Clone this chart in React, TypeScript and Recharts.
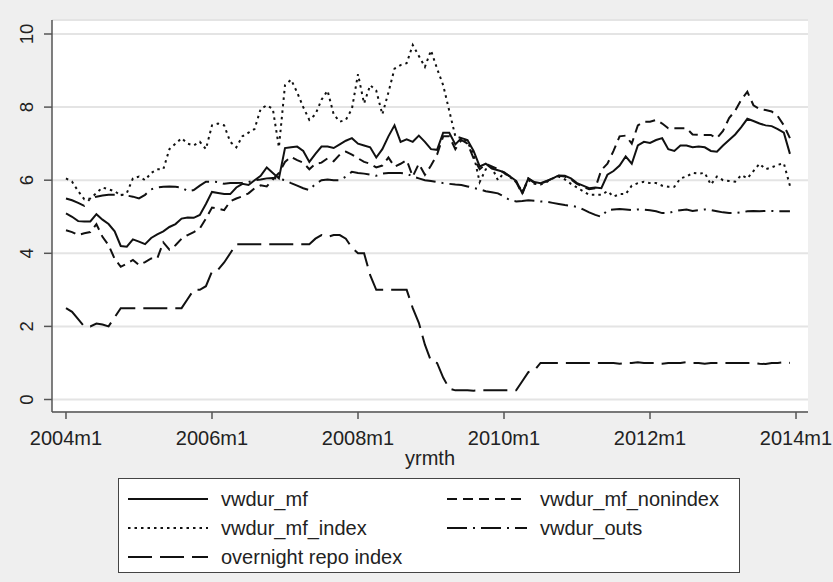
import React from 'react';
import { LineChart, Line, XAxis, YAxis, CartesianGrid } from 'recharts';

// month index 0 = 2004m1
const months: number[] = Array.from({ length: 120 }, (_, i) => i);
const xTicks = [0, 24, 48, 72, 96, 120];
const xTickLabels = ['2004m1', '2006m1', '2008m1', '2010m1', '2012m1', '2014m1'];
const yTicks = [0, 2, 4, 6, 8, 10];

const vwdurMf = [
  5.09, 5.0, 4.88, 4.87, 4.87, 5.07, 4.92, 4.8, 4.6, 4.2,
  4.18, 4.38, 4.32, 4.25, 4.42, 4.52, 4.6, 4.72, 4.8, 4.95,
  4.98, 4.97, 5.05, 5.35, 5.68, 5.65, 5.62, 5.62, 5.8, 5.9,
  5.87, 6.0, 6.12, 6.35, 6.2, 6.05, 6.88, 6.9, 6.92, 6.8,
  6.5, 6.72, 6.92, 6.92, 6.88, 6.98, 7.08, 7.15, 7.0, 6.95,
  6.9, 6.62, 6.85, 7.2, 7.5, 7.05, 7.12, 7.05, 7.22, 7.05,
  6.85, 6.83, 7.3, 7.3, 6.98, 7.15, 7.1, 6.8, 6.38, 6.45,
  6.32, 6.27, 6.22, 6.1, 5.98, 5.65, 6.05, 5.95, 5.92, 5.98,
  6.05, 6.13, 6.12, 6.05, 5.92, 5.85, 5.78, 5.8, 5.78, 6.15,
  6.25, 6.4, 6.65, 6.45, 6.95, 7.05, 7.02, 7.1, 7.15, 6.85,
  6.8, 6.95, 6.95, 6.9, 6.92, 6.9, 6.8, 6.78, 6.95, 7.1,
  7.25, 7.45, 7.68, 7.62, 7.55, 7.5, 7.48, 7.4, 7.3, 6.72,
];

const vwdurMfNonindex = [
  4.63, 4.58, 4.5, 4.55, 4.58, 4.8, 4.45, 4.22, 3.85, 3.63,
  3.72, 3.82, 3.68, 3.76, 3.86, 3.86, 4.3, 4.1, 4.22, 4.4,
  4.5, 4.58, 4.68, 4.95, 5.25, 5.22, 5.18, 5.42, 5.5, 5.56,
  5.64, 5.78, 5.86, 5.83, 6.02, 6.2, 6.5, 6.64, 6.55, 6.48,
  6.3, 6.45, 6.48, 6.6, 6.52, 6.7, 6.78, 6.7, 6.6, 6.5,
  6.45, 6.35, 6.4, 6.62, 6.37, 6.45, 6.55, 6.1, 6.45, 6.15,
  6.4, 6.7, 7.2, 7.2, 6.85, 7.1, 7.0, 6.6, 6.3, 6.45,
  6.38, 6.3, 6.2, 6.1, 5.95, 5.62, 6.05, 5.92, 5.9, 5.97,
  6.05, 6.12, 6.1, 6.02, 5.9, 5.82, 5.75, 5.78, 6.28, 6.45,
  6.8, 7.2, 7.22, 7.0, 7.5, 7.6, 7.6, 7.65, 7.55, 7.42,
  7.42, 7.42, 7.42, 7.25, 7.24, 7.24, 7.24, 7.15, 7.35, 7.7,
  7.9, 8.2, 8.42, 8.05, 7.95, 7.92, 7.88, 7.75, 7.5, 7.15,
];

const vwdurMfIndex = [
  6.05, 5.96, 5.7, 5.48, 5.5, 5.65, 5.8, 5.75, 5.7, 5.58,
  5.65, 6.05, 6.1, 6.0, 6.2, 6.3, 6.3, 6.85, 7.0, 7.15,
  7.0, 6.95, 7.05, 6.85, 7.5, 7.55, 7.5, 7.05, 6.9, 7.2,
  7.3, 7.4, 7.95, 8.05, 7.95, 6.9, 8.6, 8.75, 8.4, 8.0,
  7.65, 7.8, 8.2, 8.45, 7.8, 7.6, 7.65, 7.95, 8.9, 8.1,
  8.6, 8.45, 7.8, 8.4, 9.05, 9.15, 9.2, 9.7, 9.4, 9.1,
  9.55, 9.05, 8.6, 7.9, 7.2, 7.15, 7.05, 6.7, 5.95, 6.3,
  6.35, 6.0, 6.2, 6.08, 5.95, 5.68, 6.0, 5.9, 5.88, 5.95,
  6.05, 6.1, 6.02, 5.9, 5.8, 5.7, 5.6, 5.6, 5.6, 5.7,
  5.55, 5.62, 5.62, 5.85, 5.92, 5.96, 5.92, 5.92, 5.85, 5.82,
  5.82, 6.05, 6.1, 6.2, 6.18, 6.2, 5.88, 6.1, 6.0, 5.98,
  5.96, 6.14, 6.05, 6.25, 6.45, 6.3, 6.35, 6.42, 6.46, 5.85,
];

const vwdurOuts = [
  5.5, 5.45, 5.38, 5.3, 5.5, 5.55, 5.58, 5.6, 5.6, 5.6,
  5.58, 5.55, 5.5, 5.6, 5.75, 5.8, 5.82, 5.83, 5.82, 5.8,
  5.7, 5.73, 5.85, 5.96, 5.96, 5.95, 5.9, 5.92, 5.92, 5.93,
  5.95, 6.0, 6.02, 6.05, 6.06, 6.04, 6.0, 5.92, 5.85, 5.78,
  5.73, 5.9, 6.0, 6.02, 6.0, 6.0, 6.1, 6.23, 6.2, 6.18,
  6.15, 6.12, 6.18, 6.2, 6.2, 6.2, 6.18, 6.1, 6.05, 6.0,
  5.98, 5.95, 5.92, 5.9, 5.88, 5.87, 5.83, 5.79, 5.75, 5.7,
  5.67, 5.64, 5.55, 5.45, 5.42, 5.43, 5.45, 5.44, 5.42, 5.41,
  5.38, 5.35, 5.32, 5.3, 5.27, 5.2, 5.12, 5.05, 5.0, 5.18,
  5.2, 5.21, 5.2, 5.18, 5.2, 5.19, 5.18, 5.15, 5.1, 5.1,
  5.15, 5.18, 5.2, 5.16, 5.18, 5.2, 5.18, 5.15, 5.12, 5.1,
  5.1, 5.12, 5.15, 5.16, 5.15, 5.16, 5.16, 5.15, 5.15, 5.15,
];

const overnightRepo = [
  2.5, 2.4, 2.2, 2.0, 2.0, 2.08, 2.05, 2.0, 2.25, 2.5,
  2.5, 2.5, 2.5, 2.5, 2.5, 2.5, 2.5, 2.5, 2.5, 2.5,
  2.75, 3.0, 3.0, 3.1, 3.5, 3.55, 3.75, 4.0, 4.25, 4.25,
  4.25, 4.25, 4.25, 4.25, 4.25, 4.25, 4.25, 4.25, 4.25, 4.25,
  4.25, 4.4, 4.5, 4.45, 4.5, 4.5, 4.4, 4.15, 4.0, 4.0,
  3.4, 3.0, 3.0, 3.0, 3.0, 3.0, 3.0, 2.5, 2.1, 1.5,
  1.05, 1.0, 0.6, 0.3, 0.25, 0.25, 0.25, 0.24, 0.25, 0.25,
  0.25, 0.25, 0.25, 0.25, 0.25, 0.5, 0.75, 0.8, 1.0, 1.0,
  1.0, 1.0, 1.0, 1.0, 1.0, 1.0, 1.0, 1.0, 1.0, 1.0,
  1.0, 0.98, 1.0, 1.0, 1.02, 1.0, 1.0, 1.0, 0.98, 1.0,
  1.0, 1.0, 1.02, 1.0, 1.0, 0.98, 1.0, 1.0, 1.0, 1.0,
  1.0, 1.0, 1.0, 1.0, 0.98, 0.97, 1.0, 1.0, 1.02, 1.0,
];

const seriesNames = ['vwdur_mf', 'vwdur_mf_nonindex', 'vwdur_mf_index', 'vwdur_outs', 'overnight repo index'];

const data = months.map((m, i) => ({
  m,
  mf: vwdurMf[i],
  nonindex: vwdurMfNonindex[i],
  index: vwdurMfIndex[i],
  outs: vwdurOuts[i],
  repo: overnightRepo[i],
}));

const FONT = '"Liberation Sans", Arial, sans-serif';
const INK = '#111';

const seriesStyle = [
  { key: 'mf', name: seriesNames[0], dash: undefined as string | undefined },
  { key: 'nonindex', name: seriesNames[1], dash: '10 6' },
  { key: 'index', name: seriesNames[2], dash: '2.5 4' },
  { key: 'outs', name: seriesNames[3], dash: '20 6 2 6' },
  { key: 'repo', name: seriesNames[4], dash: '24 8' },
];

const XTick = (props: any) => {
  const { x, y, payload } = props;
  const idx = xTicks.indexOf(payload.value);
  return (
    <text x={x} y={y + 24} textAnchor="middle" fontFamily={FONT} fontSize={20} fill="#222">
      {xTickLabels[idx]}
    </text>
  );
};

const YTick = (props: any) => {
  const { y, payload } = props;
  return (
    <text
      transform={`translate(33,${y}) rotate(-90)`}
      textAnchor="middle"
      fontFamily={FONT}
      fontSize={18.5}
      fill="#222"
    >
      {payload.value}
    </text>
  );
};

const legendRows = [
  [seriesStyle[0], seriesStyle[1]],
  [seriesStyle[2], seriesStyle[3]],
  [seriesStyle[4]],
];

export default function App() {
  return (
    <div
      style={{
        position: 'absolute',
        left: 0,
        top: 0,
        width: 833,
        height: 582,
        background: '#efefef',
        overflow: 'hidden',
      }}
    >
      <LineChart
        width={833}
        height={582}
        data={data}
        margin={{ top: 20, right: 25, bottom: 117, left: 0 }}
      >
        <CartesianGrid
          vertical={false}
          fill="#ffffff"
          stroke="#e4e4e4"
          strokeWidth={2}
        />
        <XAxis
          dataKey="m"
          type="number"
          domain={[-2.3, 121.97]}
          ticks={xTicks}
          tick={<XTick />}
          tickSize={7}
          height={53}
          axisLine={{ stroke: '#555', strokeWidth: 1.5 }}
          tickLine={{ stroke: '#555', strokeWidth: 1.5 }}
          allowDataOverflow
          label={{
            value: 'yrmth',
            position: 'insideBottom',
            offset: 0,
            style: { fontFamily: FONT, fontSize: 20, fill: '#222' },
          }}
        />
        <YAxis
          type="number"
          domain={[-0.342, 10.383]}
          ticks={yTicks}
          tick={<YTick />}
          tickSize={8}
          width={52}
          axisLine={{ stroke: '#555', strokeWidth: 1.5 }}
          tickLine={{ stroke: '#555', strokeWidth: 1.5 }}
          allowDataOverflow
        />
        {seriesStyle.map((s) => (
          <Line
            key={s.key}
            dataKey={s.key}
            name={s.name}
            type="linear"
            stroke={INK}
            strokeWidth={2}
            strokeDasharray={s.dash}
            dot={false}
            activeDot={false}
            isAnimationActive={false}
          />
        ))}
      </LineChart>
      <div
        style={{
          position: 'absolute',
          left: 118,
          top: 478,
          width: 620,
          height: 93,
          background: '#fff',
          border: '1.5px solid #444',
          fontFamily: FONT,
          fontSize: 20,
          color: '#222',
        }}
      >
        {legendRows.map((row, r) =>
          row.map((s, c) => (
            <div
              key={s.key}
              style={{
                position: 'absolute',
                left: c === 0 ? 9 : 328,
                top: 20 + r * 29 - 12,
                height: 24,
                display: 'flex',
                alignItems: 'center',
                whiteSpace: 'nowrap',
              }}
            >
              <svg width={80} height={24} style={{ display: 'block' }}>
                <line
                  x1={0}
                  y1={12}
                  x2={80}
                  y2={12}
                  stroke={INK}
                  strokeWidth={2}
                  strokeDasharray={s.dash}
                />
              </svg>
              <span style={{ marginLeft: 13, lineHeight: '24px' }}>{s.name}</span>
            </div>
          ))
        )}
      </div>
    </div>
  );
}
